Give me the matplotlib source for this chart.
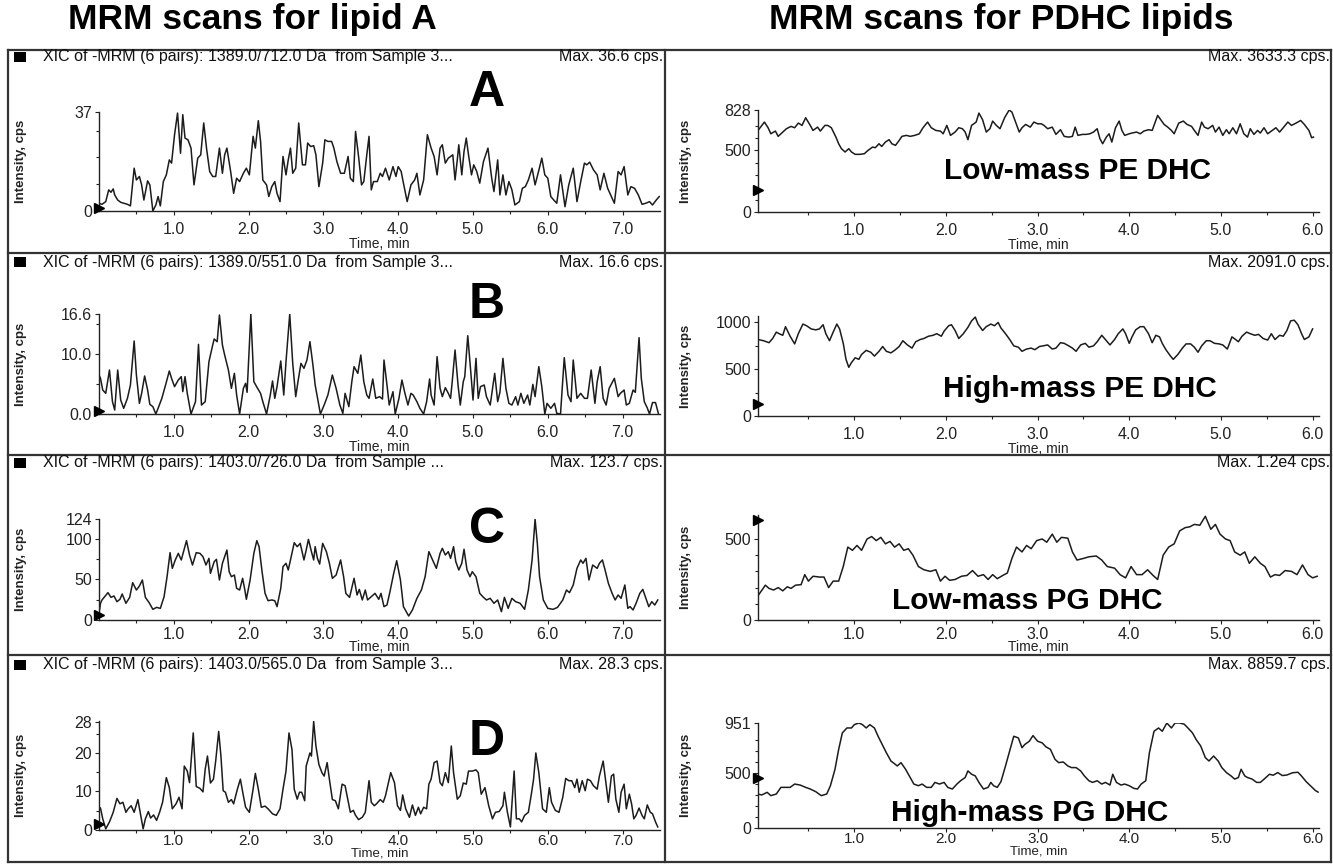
import matplotlib
matplotlib.use("Agg")
import matplotlib.pyplot as plt
from matplotlib.lines import Line2D
from matplotlib.patches import Rectangle

plt.rcParams['font.family'] = ['Liberation Sans', 'DejaVu Sans']

# ---------------- data (time in min, intensity in cps) ----------------
trace_a = [(0.00, 2.9), (0.04, 2.5), (0.09, 3.5), (0.13, 7.9), (0.16, 7.0), (0.19, 8.25), (0.21, 6.0), (0.25, 4.1),
           (0.29, 3.25), (0.33, 2.9), (0.38, 2.5), (0.42, 1.9), (0.47, 16.0), (0.50, 11.6), (0.54, 12.9), (0.57, 9.75),
           (0.60, 4.1), (0.65, 11.25), (0.68, 9.75), (0.72, 0.0), (0.76, 2.25), (0.79, 5.4), (0.82, 1.9), (0.86, 11.0),
           (0.90, 13.5), (0.94, 19.1), (0.97, 17.9), (1.01, 28.5), (1.05, 36.6), (1.09, 21.6), (1.12, 36.0), (1.15, 27.25),
           (1.19, 26.6), (1.23, 23.5), (1.27, 9.75), (1.32, 19.75), (1.36, 21.0), (1.40, 32.9), (1.44, 22.9), (1.48, 14.75),
           (1.52, 12.9), (1.56, 12.9), (1.61, 23.5), (1.65, 14.1), (1.68, 21.0), (1.71, 23.5), (1.76, 14.75), (1.80, 6.6),
           (1.84, 12.25), (1.88, 11.0), (1.93, 14.1), (1.97, 16.0), (2.01, 13.5), (2.06, 27.9), (2.09, 23.5), (2.13, 33.75),
           (2.16, 26.0), (2.19, 11.6), (2.24, 9.75), (2.27, 5.4), (2.31, 9.1), (2.35, 11.0), (2.38, 6.6), (2.42, 3.5),
           (2.46, 20.4), (2.50, 13.5), (2.53, 19.1), (2.56, 23.5), (2.59, 14.1), (2.63, 16.0), (2.67, 32.9), (2.72, 17.25),
           (2.76, 17.25), (2.79, 25.4), (2.83, 24.1), (2.87, 24.4), (2.90, 21.0), (2.94, 9.1), (2.99, 17.9), (3.02, 26.6),
           (3.06, 26.0), (3.11, 26.0), (3.14, 23.5), (3.18, 18.5), (3.23, 14.1), (3.28, 14.1), (3.33, 20.4), (3.36, 12.25),
           (3.40, 11.0), (3.43, 29.75), (3.47, 20.4), (3.51, 9.75), (3.54, 11.0), (3.58, 21.0), (3.61, 27.9), (3.64, 7.9),
           (3.67, 11.0), (3.72, 11.0), (3.76, 14.1), (3.79, 12.9), (3.83, 16.0), (3.88, 11.6), (3.93, 16.6), (3.97, 12.9),
           (4.00, 16.6), (4.04, 14.75), (4.07, 10.4), (4.12, 3.5), (4.17, 9.75), (4.22, 11.6), (4.25, 14.1), (4.29, 6.0),
           (4.34, 11.6), (4.39, 28.5), (4.44, 23.5), (4.48, 20.4), (4.52, 13.5), (4.56, 23.5), (4.59, 24.75), (4.63, 17.9),
           (4.67, 19.75), (4.73, 21.0), (4.76, 11.6), (4.79, 19.1), (4.81, 24.75), (4.85, 13.5), (4.88, 22.25), (4.91, 27.25),
           (4.94, 21.0), (4.98, 13.5), (5.01, 17.25), (5.05, 14.75), (5.09, 10.4), (5.14, 18.5), (5.20, 23.5), (5.25, 12.25),
           (5.28, 7.25), (5.33, 19.1), (5.36, 6.0), (5.40, 13.5), (5.44, 6.0), (5.48, 11.0), (5.52, 7.9), (5.56, 2.25),
           (5.62, 3.5), (5.66, 8.5), (5.70, 9.1), (5.74, 11.6), (5.79, 16.0), (5.83, 9.75), (5.87, 14.1), (5.92, 19.75),
           (5.96, 13.5), (6.00, 12.25), (6.04, 5.4), (6.08, 4.1), (6.12, 2.9), (6.17, 13.5), (6.23, 1.6), (6.28, 9.75),
           (6.34, 16.0), (6.39, 3.5), (6.44, 11.0), (6.49, 17.9), (6.52, 17.25), (6.56, 18.25), (6.61, 15.4), (6.66, 13.5),
           (6.70, 7.9), (6.75, 14.1), (6.80, 8.5), (6.85, 5.4), (6.89, 2.9), (6.94, 14.75), (6.98, 13.5), (7.02, 16.6),
           (7.07, 6.0), (7.11, 9.1), (7.16, 8.5), (7.21, 6.0), (7.26, 2.5), (7.31, 2.9), (7.36, 3.5), (7.40, 2.25),
           (7.45, 4.1), (7.49, 5.4)]

trace_b = [(0.00, 6.47), (0.02, 5.92), (0.05, 3.98), (0.09, 3.43), (0.14, 7.30), (0.18, 2.05), (0.21, 0.66), (0.25, 7.30),
           (0.29, 2.32), (0.33, 0.94), (0.38, 2.60), (0.42, 4.81), (0.47, 12.12), (0.50, 6.47), (0.54, 1.77), (0.57, 3.43),
           (0.61, 6.31), (0.65, 3.98), (0.68, 1.60), (0.72, 1.22), (0.76, 0.0), (0.79, 0.94), (0.84, 2.60), (0.89, 4.81),
           (0.94, 7.14), (0.97, 5.92), (1.01, 4.54), (1.06, 5.64), (1.10, 6.20), (1.12, 3.71), (1.15, 6.20), (1.18, 3.43),
           (1.23, 0.0), (1.29, 2.05), (1.33, 11.56), (1.37, 1.49), (1.42, 2.05), (1.47, 8.69), (1.52, 11.45), (1.54, 12.45),
           (1.58, 12.0), (1.61, 16.43), (1.65, 11.45), (1.68, 9.79), (1.73, 7.30), (1.77, 4.26), (1.81, 6.75), (1.84, 3.15),
           (1.88, 0.0), (1.93, 4.26), (1.96, 5.09), (1.98, 3.60), (2.03, 16.6), (2.07, 5.37), (2.12, 4.26), (2.16, 3.43),
           (2.19, 2.05), (2.24, 0.0), (2.29, 3.15), (2.32, 5.48), (2.35, 2.60), (2.38, 4.54), (2.43, 8.80), (2.47, 3.15),
           (2.50, 8.69), (2.55, 16.6), (2.59, 8.41), (2.63, 2.88), (2.66, 5.37), (2.70, 8.41), (2.74, 7.58), (2.78, 8.96),
           (2.82, 12.0), (2.86, 8.13), (2.89, 4.81), (2.93, 2.05), (2.96, 0.0), (3.01, 1.49), (3.06, 3.15), (3.12, 6.47),
           (3.17, 4.26), (3.22, 1.49), (3.26, 0.11), (3.29, 3.43), (3.34, 1.22), (3.38, 5.37), (3.41, 7.86), (3.46, 6.75),
           (3.50, 9.79), (3.54, 5.37), (3.58, 3.15), (3.61, 2.60), (3.66, 5.81), (3.70, 2.60), (3.75, 2.88), (3.79, 2.49),
           (3.81, 8.96), (3.85, 4.81), (3.88, 1.49), (3.93, 3.71), (3.96, 0.0), (4.01, 2.60), (4.05, 5.64), (4.09, 3.43),
           (4.13, 1.49), (4.17, 3.43), (4.20, 3.15), (4.25, 2.05), (4.29, 0.94), (4.34, 0.0), (4.38, 2.05), (4.42, 5.81),
           (4.44, 3.15), (4.48, 1.49), (4.52, 9.52), (4.56, 4.26), (4.59, 2.88), (4.63, 4.37), (4.67, 3.43), (4.70, 2.60),
           (4.72, 5.09), (4.76, 10.62), (4.80, 4.81), (4.83, 1.49), (4.87, 5.37), (4.89, 6.20), (4.93, 13.0), (4.97, 7.03),
           (5.00, 2.32), (5.04, 9.24), (5.07, 2.60), (5.10, 4.54), (5.15, 4.81), (5.18, 2.88), (5.23, 1.49), (5.29, 6.75),
           (5.33, 2.05), (5.36, 3.60), (5.40, 9.24), (5.44, 4.26), (5.48, 1.77), (5.52, 1.49), (5.57, 2.88), (5.60, 1.49),
           (5.64, 3.43), (5.68, 1.77), (5.73, 3.15), (5.76, 1.49), (5.80, 4.92), (5.83, 2.88), (5.88, 7.86), (5.92, 4.54),
           (5.96, 0.0), (5.99, 1.77), (6.04, 0.94), (6.09, 1.77), (6.12, 0.11), (6.17, 0.0), (6.22, 9.35), (6.27, 3.15),
           (6.31, 2.05), (6.34, 8.96), (6.39, 2.60), (6.44, 3.43), (6.49, 2.60), (6.53, 2.60), (6.58, 7.30), (6.63, 1.77),
           (6.66, 5.37), (6.70, 7.86), (6.74, 2.60), (6.78, 1.49), (6.82, 4.26), (6.89, 5.92), (6.94, 2.88), (6.97, 3.43),
           (7.02, 3.98), (7.05, 1.49), (7.09, 1.77), (7.14, 3.98), (7.17, 3.60), (7.22, 12.67), (7.25, 5.92), (7.29, 2.05),
           (7.33, 1.0), (7.36, 0.0), (7.40, 1.9), (7.44, 1.9), (7.48, 0.0)]

trace_c = [(0.00, 8.2), (0.02, 20.5), (0.04, 24.6), (0.12, 33.6), (0.16, 27.8), (0.20, 29.5), (0.24, 22.5), (0.28, 25.4),
           (0.31, 31.9), (0.36, 20.5), (0.41, 27.8), (0.45, 45.8), (0.50, 36.8), (0.54, 41.7), (0.58, 49.1), (0.62, 27.8),
           (0.67, 21.3), (0.72, 13.1), (0.77, 15.5), (0.82, 14.3), (0.87, 28.6), (0.91, 53.2), (0.95, 82.7), (0.98, 63.4),
           (1.02, 73.7), (1.06, 81.8), (1.10, 73.7), (1.13, 83.9), (1.17, 97.4), (1.21, 79.8), (1.25, 67.5), (1.30, 82.7),
           (1.35, 81.8), (1.39, 77.7), (1.43, 67.5), (1.47, 75.7), (1.49, 57.3), (1.54, 71.6), (1.57, 74.5), (1.61, 49.1),
           (1.65, 69.6), (1.71, 85.9), (1.74, 59.3), (1.77, 53.2), (1.81, 55.2), (1.84, 38.9), (1.88, 36.8), (1.92, 51.2),
           (1.95, 36.8), (1.97, 25.4), (2.02, 49.1), (2.07, 81.8), (2.11, 97.4), (2.14, 90.0), (2.18, 59.3), (2.22, 32.7),
           (2.26, 23.7), (2.31, 24.6), (2.35, 23.7), (2.38, 16.4), (2.43, 38.9), (2.46, 65.5), (2.50, 69.6), (2.53, 61.4),
           (2.56, 73.7), (2.61, 94.9), (2.65, 90.0), (2.69, 94.1), (2.74, 73.7), (2.77, 85.9), (2.80, 99.0), (2.84, 83.9),
           (2.87, 73.7), (2.89, 90.0), (2.92, 75.7), (2.95, 68.7), (2.99, 94.1), (3.04, 83.9), (3.08, 69.6), (3.12, 51.2),
           (3.17, 55.2), (3.23, 73.7), (3.27, 53.2), (3.30, 32.7), (3.35, 27.8), (3.41, 51.2), (3.45, 30.7), (3.48, 37.6),
           (3.52, 24.6), (3.56, 36.8), (3.59, 24.6), (3.64, 28.6), (3.69, 32.7), (3.74, 25.4), (3.77, 32.7), (3.81, 16.4),
           (3.85, 18.4), (3.89, 34.8), (3.94, 57.3), (3.98, 72.8), (4.03, 49.1), (4.07, 16.4), (4.14, 4.9), (4.19, 12.3),
           (4.25, 26.6), (4.31, 36.8), (4.36, 53.2), (4.41, 83.9), (4.46, 73.7), (4.51, 63.4), (4.56, 81.8), (4.59, 88.0),
           (4.63, 79.8), (4.67, 83.9), (4.70, 75.7), (4.74, 90.0), (4.77, 71.6), (4.81, 61.4), (4.85, 69.6), (4.88, 86.8),
           (4.92, 61.4), (4.96, 53.2), (4.99, 59.3), (5.04, 53.2), (5.09, 32.7), (5.14, 27.8), (5.18, 24.6), (5.23, 26.6),
           (5.28, 20.5), (5.33, 24.6), (5.38, 10.2), (5.42, 27.8), (5.47, 14.3), (5.52, 26.6), (5.57, 22.5), (5.63, 20.5),
           (5.69, 13.1), (5.74, 36.8), (5.79, 73.7), (5.83, 123.7), (5.86, 94.1), (5.89, 53.2), (5.94, 24.6), (6.00, 14.3),
           (6.07, 13.1), (6.13, 15.5), (6.20, 24.6), (6.25, 36.8), (6.29, 33.6), (6.34, 43.0), (6.39, 63.4), (6.44, 73.7),
           (6.47, 69.6), (6.51, 75.7), (6.55, 49.1), (6.60, 67.5), (6.66, 63.4), (6.69, 69.6), (6.73, 73.7), (6.76, 63.4),
           (6.81, 45.0), (6.86, 32.7), (6.90, 24.6), (6.94, 30.7), (6.98, 26.6), (7.03, 43.0), (7.07, 14.3), (7.10, 16.4),
           (7.14, 12.3), (7.18, 20.5), (7.23, 32.7), (7.27, 37.6), (7.32, 24.6), (7.35, 16.4), (7.39, 22.5), (7.43, 18.4),
           (7.47, 24.6)]

trace_d = [(0.00, 5.9), (0.02, 5.7), (0.05, 2.9), (0.09, 0.3), (0.14, 2.1), (0.19, 4.6), (0.24, 8.2), (0.28, 6.8),
           (0.32, 7.2), (0.36, 4.6), (0.39, 5.5), (0.43, 6.3), (0.47, 4.6), (0.52, 7.9), (0.55, 4.6), (0.59, 0.3),
           (0.62, 2.9), (0.66, 4.8), (0.69, 3.1), (0.73, 3.9), (0.77, 2.5), (0.81, 4.6), (0.85, 7.2), (0.90, 13.6),
           (0.94, 11.0), (0.98, 5.5), (1.03, 6.8), (1.07, 8.5), (1.11, 5.5), (1.14, 16.6), (1.18, 15.3), (1.21, 12.3),
           (1.26, 25.2), (1.30, 11.3), (1.35, 10.8), (1.39, 9.9), (1.42, 15.8), (1.45, 19.2), (1.49, 12.2), (1.53, 13.2),
           (1.56, 17.9), (1.60, 25.6), (1.63, 19.2), (1.66, 10.2), (1.69, 9.8), (1.73, 7.2), (1.77, 7.9), (1.80, 6.8),
           (1.85, 10.6), (1.89, 13.2), (1.93, 8.9), (1.96, 5.9), (2.01, 4.6), (2.06, 10.6), (2.09, 14.7), (2.13, 10.6),
           (2.17, 5.9), (2.22, 6.2), (2.26, 5.5), (2.32, 4.2), (2.37, 3.8), (2.42, 5.5), (2.46, 10.6), (2.50, 15.3),
           (2.54, 25.2), (2.58, 20.9), (2.61, 10.6), (2.65, 8.0), (2.68, 9.8), (2.71, 9.8), (2.75, 7.6), (2.77, 16.6),
           (2.82, 20.0), (2.84, 19.2), (2.87, 28.2), (2.90, 21.8), (2.94, 17.0), (2.98, 14.9), (3.01, 14.0), (3.05, 17.5),
           (3.08, 13.2), (3.12, 7.9), (3.16, 7.6), (3.20, 5.5), (3.25, 11.9), (3.29, 11.5), (3.33, 7.6), (3.36, 4.6),
           (3.40, 5.1), (3.43, 3.8), (3.47, 2.7), (3.52, 3.3), (3.56, 4.6), (3.61, 12.8), (3.64, 7.2), (3.68, 6.3),
           (3.71, 6.8), (3.76, 7.9), (3.80, 7.2), (3.83, 8.9), (3.87, 12.3), (3.90, 14.9), (3.95, 12.3), (3.99, 6.3),
           (4.03, 5.1), (4.06, 9.1), (4.10, 5.5), (4.15, 3.3), (4.19, 6.5), (4.23, 3.8), (4.27, 5.9), (4.30, 4.2),
           (4.34, 5.9), (4.38, 5.5), (4.41, 11.9), (4.44, 13.2), (4.48, 17.5), (4.52, 17.9), (4.56, 12.3), (4.59, 11.5),
           (4.63, 14.9), (4.67, 12.3), (4.71, 21.8), (4.74, 14.9), (4.79, 8.0), (4.83, 8.9), (4.87, 12.2), (4.91, 11.9),
           (4.94, 15.3), (4.99, 15.3), (5.04, 15.6), (5.07, 14.9), (5.11, 9.3), (5.16, 11.0), (5.21, 6.3), (5.26, 2.9),
           (5.30, 4.6), (5.35, 4.8), (5.40, 6.3), (5.42, 9.8), (5.46, 4.6), (5.50, 0.8), (5.55, 15.3), (5.58, 2.9),
           (5.62, 2.9), (5.65, 2.1), (5.69, 3.8), (5.74, 4.6), (5.78, 9.3), (5.81, 13.2), (5.84, 20.0), (5.88, 14.9),
           (5.93, 5.5), (5.98, 4.6), (6.02, 11.0), (6.05, 7.2), (6.10, 5.1), (6.15, 4.6), (6.20, 8.5), (6.24, 13.4),
           (6.28, 12.8), (6.32, 12.8), (6.36, 11.0), (6.39, 13.2), (6.42, 9.8), (6.46, 12.8), (6.50, 10.2), (6.53, 13.2),
           (6.57, 12.8), (6.61, 11.5), (6.66, 10.6), (6.69, 14.0), (6.74, 17.9), (6.78, 11.9), (6.81, 7.2), (6.85, 14.0),
           (6.88, 14.5), (6.91, 8.0), (6.95, 4.6), (6.98, 9.8), (7.02, 11.9), (7.05, 5.5), (7.09, 9.3), (7.12, 6.8),
           (7.15, 2.9), (7.18, 3.8), (7.22, 5.7), (7.26, 3.8), (7.29, 2.9), (7.33, 6.5), (7.37, 4.6), (7.40, 4.2),
           (7.44, 2.1), (7.47, 0.8)]

trace_pe_low = [(-0.05, 662), (0.02, 730), (0.06, 684), (0.09, 635), (0.14, 657), (0.17, 614), (0.22, 649), (0.26, 676),
                (0.31, 695), (0.35, 684), (0.39, 722), (0.43, 703), (0.47, 765), (0.52, 703), (0.55, 662), (0.60, 689),
                (0.63, 657), (0.68, 703), (0.71, 703), (0.75, 684), (0.80, 608), (0.83, 554), (0.86, 514), (0.90, 487),
                (0.94, 514), (0.97, 487), (1.01, 468), (1.06, 468), (1.11, 473), (1.15, 500), (1.20, 527), (1.23, 522),
                (1.27, 554), (1.30, 532), (1.34, 568), (1.38, 587), (1.41, 554), (1.45, 541), (1.49, 581), (1.52, 614),
                (1.57, 622), (1.61, 614), (1.66, 622), (1.71, 635), (1.75, 684), (1.80, 730), (1.84, 684), (1.89, 662),
                (1.94, 657), (1.97, 635), (2.01, 703), (2.05, 622), (2.10, 649), (2.14, 684), (2.18, 676), (2.21, 649),
                (2.24, 587), (2.28, 703), (2.33, 730), (2.36, 803), (2.40, 749), (2.44, 649), (2.48, 676), (2.51, 738),
                (2.55, 703), (2.59, 676), (2.64, 765), (2.69, 828), (2.72, 811), (2.76, 730), (2.80, 649), (2.83, 684),
                (2.87, 711), (2.92, 689), (2.96, 730), (3.00, 716), (3.04, 716), (3.07, 703), (3.11, 676), (3.16, 689),
                (3.20, 630), (3.25, 668), (3.29, 614), (3.34, 608), (3.38, 614), (3.41, 689), (3.44, 622), (3.49, 630),
                (3.53, 630), (3.57, 635), (3.61, 649), (3.65, 676), (3.68, 595), (3.71, 554), (3.75, 608), (3.78, 635),
                (3.81, 568), (3.85, 684), (3.89, 738), (3.92, 662), (3.95, 622), (4.00, 635), (4.03, 641), (4.08, 649),
                (4.12, 635), (4.16, 657), (4.21, 668), (4.25, 662), (4.31, 784), (4.35, 743), (4.38, 711), (4.42, 689),
                (4.46, 662), (4.49, 635), (4.54, 722), (4.59, 738), (4.63, 711), (4.68, 695), (4.71, 662), (4.75, 622),
                (4.79, 730), (4.82, 689), (4.86, 676), (4.91, 703), (4.94, 649), (4.98, 689), (5.02, 622), (5.06, 668),
                (5.09, 635), (5.13, 684), (5.17, 635), (5.21, 716), (5.25, 635), (5.29, 608), (5.32, 676), (5.36, 630),
                (5.40, 662), (5.43, 641), (5.47, 684), (5.51, 635), (5.55, 657), (5.60, 684), (5.64, 649), (5.68, 684),
                (5.73, 730), (5.77, 703), (5.82, 722), (5.87, 743), (5.91, 711), (5.96, 662), (5.99, 603), (6.01, 608)]

trace_pe_high = [(-0.05, 817), (0.01, 804), (0.07, 783), (0.11, 828), (0.15, 896), (0.18, 879), (0.22, 862), (0.25, 954),
                 (0.30, 852), (0.35, 770), (0.39, 879), (0.44, 982), (0.48, 964), (0.53, 930), (0.58, 920), (0.62, 930),
                 (0.66, 975), (0.69, 879), (0.73, 804), (0.77, 896), (0.81, 982), (0.84, 930), (0.88, 776), (0.91, 605),
                 (0.94, 520), (0.97, 571), (1.01, 622), (1.05, 605), (1.08, 657), (1.13, 701), (1.18, 681), (1.22, 640),
                 (1.27, 691), (1.31, 742), (1.35, 691), (1.40, 674), (1.44, 701), (1.49, 742), (1.53, 804), (1.58, 759),
                 (1.63, 725), (1.67, 793), (1.72, 817), (1.76, 828), (1.81, 852), (1.86, 862), (1.90, 879), (1.95, 852),
                 (1.98, 906), (2.03, 964), (2.06, 975), (2.10, 913), (2.14, 828), (2.19, 879), (2.24, 947), (2.28, 1016),
                 (2.32, 1057), (2.35, 982), (2.40, 913), (2.44, 954), (2.49, 982), (2.53, 964), (2.57, 999), (2.60, 940),
                 (2.65, 879), (2.70, 811), (2.74, 749), (2.79, 735), (2.83, 691), (2.88, 715), (2.93, 725), (2.97, 708),
                 (3.02, 742), (3.06, 749), (3.11, 759), (3.16, 715), (3.20, 725), (3.25, 783), (3.29, 776), (3.34, 749),
                 (3.38, 725), (3.42, 691), (3.47, 759), (3.52, 776), (3.56, 735), (3.61, 749), (3.65, 793), (3.70, 862),
                 (3.75, 804), (3.79, 759), (3.84, 817), (3.88, 879), (3.93, 930), (3.96, 879), (4.00, 776), (4.03, 845),
                 (4.07, 920), (4.12, 954), (4.16, 954), (4.21, 879), (4.25, 783), (4.29, 862), (4.33, 845), (4.36, 776),
                 (4.40, 708), (4.45, 640), (4.48, 605), (4.53, 657), (4.58, 725), (4.62, 770), (4.67, 770), (4.71, 735),
                 (4.75, 681), (4.79, 749), (4.84, 804), (4.88, 804), (4.93, 776), (4.98, 770), (5.02, 759), (5.07, 715),
                 (5.12, 845), (5.16, 817), (5.19, 793), (5.23, 852), (5.28, 896), (5.32, 879), (5.37, 862), (5.41, 872),
                 (5.46, 828), (5.51, 811), (5.55, 879), (5.59, 817), (5.64, 862), (5.68, 852), (5.72, 913), (5.76, 1016),
                 (5.80, 1023), (5.84, 975), (5.88, 879), (5.91, 817), (5.96, 845), (6.00, 930)]

trace_pg_low = [(-0.05, 150), (0.00, 190), (0.03, 215), (0.07, 195), (0.12, 185), (0.17, 200), (0.22, 180), (0.27, 205),
                (0.31, 195), (0.36, 215), (0.42, 218), (0.46, 280), (0.50, 240), (0.55, 270), (0.62, 265), (0.67, 265),
                (0.72, 200), (0.77, 240), (0.83, 240), (0.88, 330), (0.93, 450), (0.98, 430), (1.03, 460), (1.08, 430),
                (1.14, 500), (1.19, 515), (1.24, 490), (1.29, 510), (1.34, 470), (1.39, 485), (1.44, 450), (1.49, 470),
                (1.54, 430), (1.59, 440), (1.64, 400), (1.70, 330), (1.76, 310), (1.83, 300), (1.89, 310), (1.94, 240),
                (1.99, 270), (2.04, 245), (2.10, 250), (2.17, 270), (2.23, 275), (2.29, 305), (2.35, 270), (2.41, 280),
                (2.46, 250), (2.51, 280), (2.56, 255), (2.62, 275), (2.67, 290), (2.72, 380), (2.77, 450), (2.83, 420),
                (2.88, 460), (2.93, 440), (2.99, 490), (3.05, 500), (3.10, 480), (3.16, 530), (3.21, 480), (3.26, 510),
                (3.33, 505), (3.38, 420), (3.43, 370), (3.50, 380), (3.56, 390), (3.64, 395), (3.70, 370), (3.76, 330),
                (3.84, 320), (3.90, 280), (3.96, 260), (4.02, 330), (4.08, 280), (4.14, 280), (4.20, 310), (4.26, 275),
                (4.31, 250), (4.37, 400), (4.43, 450), (4.49, 470), (4.55, 550), (4.61, 570), (4.66, 575), (4.71, 590),
                (4.77, 585), (4.83, 640), (4.89, 560), (4.94, 590), (4.99, 530), (5.05, 500), (5.10, 490), (5.15, 420),
                (5.21, 400), (5.26, 420), (5.31, 350), (5.37, 390), (5.43, 350), (5.48, 330), (5.54, 265), (5.59, 280),
                (5.64, 275), (5.70, 305), (5.77, 300), (5.83, 280), (5.89, 340), (5.95, 280), (6.00, 260), (6.05, 270)]

trace_pg_high = [(-0.05, 308), (-0.01, 299), (0.05, 323), (0.09, 293), (0.15, 308), (0.20, 368), (0.24, 368), (0.30, 368),
                 (0.35, 398), (0.41, 389), (0.47, 368), (0.52, 353), (0.58, 329), (0.64, 293), (0.70, 308), (0.74, 383),
                 (0.79, 532), (0.83, 712), (0.87, 861), (0.92, 906), (0.97, 906), (1.00, 936), (1.05, 951), (1.09, 936),
                 (1.13, 906), (1.17, 936), (1.22, 906), (1.26, 831), (1.30, 765), (1.35, 682), (1.40, 607), (1.47, 562),
                 (1.51, 592), (1.56, 532), (1.60, 472), (1.65, 398), (1.70, 383), (1.74, 398), (1.79, 368), (1.84, 368),
                 (1.88, 413), (1.93, 398), (1.98, 413), (2.02, 368), (2.07, 353), (2.12, 398), (2.16, 428), (2.21, 457),
                 (2.24, 517), (2.28, 487), (2.32, 472), (2.36, 413), (2.41, 353), (2.46, 368), (2.49, 413), (2.52, 383),
                 (2.56, 368), (2.60, 419), (2.65, 562), (2.70, 712), (2.74, 831), (2.79, 816), (2.83, 727), (2.86, 756),
                 (2.91, 786), (2.95, 837), (3.00, 786), (3.05, 771), (3.09, 736), (3.14, 712), (3.19, 622), (3.23, 592),
                 (3.28, 598), (3.33, 562), (3.37, 547), (3.42, 547), (3.47, 517), (3.51, 472), (3.56, 428), (3.60, 413),
                 (3.65, 428), (3.70, 398), (3.74, 413), (3.79, 389), (3.82, 487), (3.86, 413), (3.91, 389), (3.95, 398),
                 (4.00, 383), (4.05, 359), (4.09, 353), (4.13, 398), (4.18, 428), (4.22, 682), (4.27, 876), (4.32, 906),
                 (4.36, 876), (4.41, 951), (4.46, 906), (4.50, 951), (4.55, 951), (4.60, 940), (4.64, 906), (4.69, 861),
                 (4.73, 801), (4.78, 742), (4.83, 637), (4.87, 607), (4.92, 652), (4.97, 607), (5.01, 547), (5.06, 502),
                 (5.11, 472), (5.15, 443), (5.19, 457), (5.22, 532), (5.26, 472), (5.29, 457), (5.34, 443), (5.39, 413),
                 (5.43, 413), (5.48, 449), (5.53, 487), (5.57, 478), (5.62, 502), (5.67, 475), (5.72, 480), (5.78, 500),
                 (5.84, 505), (5.88, 470), (5.93, 420), (5.98, 380), (6.03, 340), (6.06, 325)]

header_texts = ["XIC of -MRM (6 pairs): 1389.0/712.0 Da  from Sample 3...",
                "XIC of -MRM (6 pairs): 1389.0/551.0 Da  from Sample 3...",
                "XIC of -MRM (6 pairs): 1403.0/726.0 Da  from Sample ...",
                "XIC of -MRM (6 pairs): 1403.0/565.0 Da  from Sample 3..."]
left_max = ["Max. 36.6 cps.", "Max. 16.6 cps.", "Max. 123.7 cps.", "Max. 28.3 cps."]
right_max = ["Max. 3633.3 cps.", "Max. 2091.0 cps.", "Max. 1.2e4 cps.", "Max. 8859.7 cps."]
panel_letters = ["A", "B", "C", "D"]
right_names = ["Low-mass PE DHC", "High-mass PE DHC", "Low-mass PG DHC", "High-mass PG DHC"]

left_yticks = [[0, 37], [0.0, 10.0, 16.6], [0, 50, 100, 124], [0, 10, 20, 28]]
left_yticklabels = [["0", "37"], ["0.0", "10.0", "16.6"], ["0", "50", "100", "124"], ["0", "10", "20", "28"]]
left_ytop = [37, 16.6, 124, 28.3]
left_yminor = [[10, 20, 30], [5, 15], [25, 75], [5, 15, 25]]
left_marker = [1.0, 0.5, 6.0, 1.5]

right_yticks = [[0, 500, 828], [0, 500, 1000], [0, 500], [0, 500, 951]]
right_ytop = [828, 1068, 648, 951]
right_yminor = [[100, 200, 300, 400, 600, 700], [250, 750], [100, 200, 300, 400], [100, 200, 300, 400, 600, 700, 800]]
right_marker = [176, 127, 617, 457]

left_xticks = [1, 2, 3, 4, 5, 6, 7]
right_xticks = [1, 2, 3, 4, 5, 6]

# ---------------- layout helpers (pixel geometry) ----------------
W, H = 1333, 865
fig = plt.figure(figsize=(W / 100, H / 100), dpi=100)
fig.patch.set_facecolor("white")


def fx(x):
    return x / W


def fy(y):
    return 1 - y / H


def make_axes(x0, x1, top, bottom):
    return fig.add_axes([fx(x0), fy(bottom), fx(x1) - fx(x0), (bottom - top) / H])


LINE = "#1c1c1c"
left_rows = [(112, 211), (314, 414), (519, 620), (721, 830)]
right_rows = [(110, 212), (316, 416), (515, 620), (723, 828)]
row_tick_pad = [5, 5, 2, 0]
row_label_pad = [0, 0, -1.5, -0.5]
row_tick_size = [11.5, 11.5, 11.5, 11]
row_label_size = [10, 10, 10, 9.5]
header_y = [57, 262, 463, 665]
letter_y = [93, 305, 530, 742]
name_pos = [(1077, 171), (1080, 389), (1027, 601), (1030, 813)]
traces_left = [trace_a, trace_b, trace_c, trace_d]
traces_right = [trace_pe_low, trace_pe_high, trace_pg_low, trace_pg_high]


def style_axes(ax, xticks, yticks, ylabels, yminor, xmin, xmax, ytop, row):
    ax.set_xlim(xmin, xmax)
    ax.set_ylim(0, ytop)
    for s in ("top", "right"):
        ax.spines[s].set_visible(False)
    for s in ("left", "bottom"):
        ax.spines[s].set_linewidth(1.0)
        ax.spines[s].set_color("#222222")
    ax.set_xticks(xticks)
    ax.set_xticklabels([f"{v:.1f}" for v in xticks])
    ax.set_xticks([v + 0.5 for v in range(0, int(xmax) + 1) if v + 0.5 < xmax], minor=True)
    ax.set_yticks(yticks)
    ax.set_yticklabels(ylabels)
    ax.set_yticks(yminor, minor=True)
    ax.tick_params(axis="x", which="major", labelsize=row_tick_size[row], length=3, width=0.8,
                   pad=row_tick_pad[row], colors="#222222")
    ax.tick_params(axis="y", which="major", labelsize=11.5, length=3, width=0.8, pad=2, colors="#222222")
    ax.tick_params(axis="both", which="minor", length=2.5, width=0.8, colors="#222222")
    ax.set_xlabel("Time, min", fontsize=row_label_size[row], labelpad=row_label_pad[row], color="#222222")
    ax.patch.set_alpha(0)


for i in range(4):
    # left column
    top, bottom = left_rows[i]
    ax = make_axes(99, 660, top, bottom)
    t, v = zip(*traces_left[i])
    ax.plot(t, v, color=LINE, lw=1.1, solid_joinstyle="round")
    style_axes(ax, left_xticks, left_yticks[i], left_yticklabels[i], left_yminor[i], 0, 7.5, left_ytop[i], i)
    ax.plot([0], [left_marker[i]], marker=">", ms=7, color="black", clip_on=False, zorder=5)
    fig.text(fx(21), fy((top + bottom) / 2), "Intensity, cps", rotation=90, fontsize=9.5,
             fontweight="bold", ha="center", va="center", color="#222222")
    fig.text(fx(43), fy(header_y[i]), header_texts[i], fontsize=11.5, ha="left", va="center", color="#111111")
    fig.text(fx(663), fy(header_y[i]), left_max[i], fontsize=11.5, ha="right", va="center", color="#111111")
    fig.patches.append(Rectangle((fx(14), fy(header_y[i] + 5)), 12 / W, 10 / H, transform=fig.transFigure,
                                 facecolor="black", edgecolor="none"))
    fig.text(fx(487), fy(letter_y[i]), panel_letters[i], fontsize=36, fontweight="bold",
             ha="center", va="center", color="black")

    # right column
    top, bottom = right_rows[i]
    ax = make_axes(758, 1319, top, bottom)
    t, v = zip(*traces_right[i])
    ax.plot(t, v, color=LINE, lw=1.1, solid_joinstyle="round")
    style_axes(ax, right_xticks, right_yticks[i], [str(y) for y in right_yticks[i]], right_yminor[i],
               -0.05, 6.07, right_ytop[i], i)
    ax.plot([-0.05], [right_marker[i]], marker=">", ms=7, color="black", clip_on=False, zorder=5)
    fig.text(fx(686), fy((top + bottom) / 2), "Intensity, cps", rotation=90, fontsize=9.5,
             fontweight="bold", ha="center", va="center", color="#222222")
    fig.text(fx(1330), fy(header_y[i]), right_max[i], fontsize=11.5, ha="right", va="center", color="#111111")
    fig.text(fx(name_pos[i][0]), fy(name_pos[i][1]), right_names[i], fontsize=21.5, fontweight="bold",
             ha="center", va="center", color="black")

# titles
fig.text(fx(252), fy(20), "MRM scans for lipid A", fontsize=25.5, fontweight="bold", ha="center", va="center")
fig.text(fx(1001), fy(20), "MRM scans for PDHC lipids", fontsize=25.5, fontweight="bold", ha="center", va="center")

# panel frames
frame_kw = dict(transform=fig.transFigure, color="#333333", lw=1.6)
for y in (50, 253, 455, 655, 862):
    fig.add_artist(Line2D([fx(8), fx(1331)], [fy(y), fy(y)], **frame_kw))
for x in (8, 665, 1331):
    fig.add_artist(Line2D([fx(x), fx(x)], [fy(50), fy(862)], **frame_kw))

fig.savefig("out.png", dpi=100, facecolor="white")
